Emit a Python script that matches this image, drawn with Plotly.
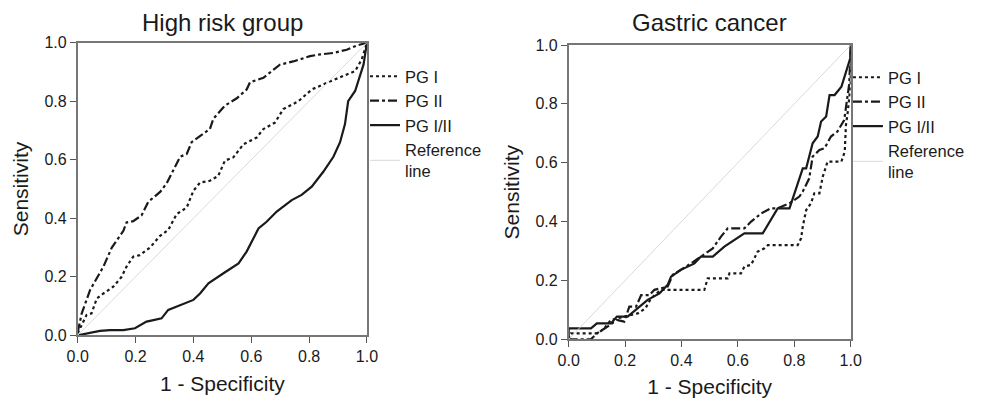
import plotly.graph_objects as go

# ---------------- Data: High risk group ----------------
hr_pg1_x = [0, 0.008, 0.031, 0.048, 0.066, 0.089, 0.123, 0.152, 0.169, 0.192, 0.215, 0.25, 0.285, 0.313,
            0.342, 0.377, 0.40, 0.423, 0.457, 0.486, 0.509, 0.538, 0.573, 0.619, 0.642, 0.682, 0.711,
            0.763, 0.809, 0.861, 0.919, 0.959, 0.982, 1.0]
hr_pg1_y = [0.007, 0.024, 0.07, 0.075, 0.126, 0.143, 0.166, 0.2, 0.235, 0.269, 0.274, 0.30, 0.34, 0.36,
            0.414, 0.437, 0.494, 0.522, 0.528, 0.545, 0.597, 0.608, 0.653, 0.676, 0.705, 0.727, 0.773,
            0.80, 0.84, 0.863, 0.886, 0.903, 0.943, 1.0]

hr_pg2_x = [0, 0.014, 0.043, 0.089, 0.118, 0.158, 0.169, 0.192, 0.221, 0.244, 0.285, 0.308, 0.354, 0.377,
            0.394, 0.457, 0.469, 0.509, 0.55, 0.584, 0.596, 0.642, 0.699, 0.745, 0.803, 0.838, 0.884,
            0.93, 0.964, 1.0]
hr_pg2_y = [0.01, 0.075, 0.155, 0.235, 0.30, 0.357, 0.386, 0.39, 0.41, 0.456, 0.49, 0.52, 0.61, 0.62,
            0.66, 0.705, 0.74, 0.785, 0.81, 0.84, 0.865, 0.88, 0.925, 0.936, 0.954, 0.96, 0.965,
            0.976, 0.99, 1.0]

hr_ratio_x = [0, 0.043, 0.077, 0.112, 0.158, 0.198, 0.238, 0.262, 0.29, 0.313, 0.354, 0.40, 0.423, 0.452,
              0.504, 0.556, 0.584, 0.625, 0.653, 0.688, 0.74, 0.774, 0.809, 0.849, 0.884, 0.907, 0.924,
              0.935, 0.959, 0.976, 0.988, 1.0]
hr_ratio_y = [0, 0.007, 0.015, 0.018, 0.018, 0.024, 0.047, 0.052, 0.058, 0.087, 0.104, 0.121, 0.143, 0.178,
              0.212, 0.246, 0.286, 0.365, 0.388, 0.423, 0.462, 0.48, 0.508, 0.559, 0.61, 0.66, 0.722,
              0.80, 0.835, 0.886, 0.925, 1.0]

# ---------------- Data: Gastric cancer ----------------
gc_pg1_x = [0, 0.008, 0.103, 0.126, 0.15, 0.197, 0.245, 0.272, 0.292, 0.327, 0.481, 0.493, 0.564, 0.57,
            0.611, 0.623, 0.647, 0.67, 0.694, 0.706, 0.812, 0.824, 0.83, 0.842, 0.859, 0.871, 0.889,
            0.901, 0.918, 0.967, 0.979, 0.983, 0.989, 1.0, 1.0]
gc_pg1_y = [0, 0.02, 0.02, 0.037, 0.066, 0.077, 0.088, 0.105, 0.139, 0.168, 0.168, 0.207, 0.207, 0.224,
            0.224, 0.247, 0.253, 0.298, 0.309, 0.32, 0.32, 0.343, 0.383, 0.439, 0.462, 0.496, 0.496,
            0.553, 0.604, 0.604, 0.638, 0.728, 0.768, 0.87, 1.0]

gc_pg2_x = [0, 0.032, 0.079, 0.1, 0.138, 0.171, 0.197, 0.215, 0.239, 0.257, 0.286, 0.304, 0.351, 0.369,
            0.398, 0.434, 0.469, 0.511, 0.54, 0.564, 0.623, 0.647, 0.683, 0.717, 0.741, 0.783, 0.818,
            0.83, 0.853, 0.865, 0.889, 0.907, 0.93, 0.953, 0.977, 0.995, 1.0]
gc_pg2_y = [0, 0, 0, 0.02, 0.043, 0.066, 0.06, 0.111, 0.111, 0.15, 0.15, 0.168, 0.179, 0.219,
            0.236, 0.258, 0.281, 0.309, 0.349, 0.377, 0.377, 0.40, 0.428, 0.445, 0.445, 0.462, 0.485,
            0.502, 0.547, 0.621, 0.643, 0.649, 0.689, 0.706, 0.745, 0.87, 1.0]

gc_ratio_x = [0, 0, 0.079, 0.1, 0.15, 0.171, 0.209, 0.245, 0.28, 0.322, 0.351, 0.363, 0.398, 0.446,
              0.469, 0.511, 0.552, 0.623, 0.688, 0.741, 0.783, 0.83, 0.842, 0.865, 0.883, 0.895,
              0.913, 0.925, 0.943, 0.967, 0.983, 1.0, 1.0]
gc_ratio_y = [0, 0.037, 0.037, 0.054, 0.054, 0.077, 0.077, 0.105, 0.134, 0.156, 0.185, 0.213, 0.236, 0.258,
              0.281, 0.281, 0.315, 0.36, 0.36, 0.445, 0.445, 0.581, 0.581, 0.666, 0.689, 0.74,
              0.757, 0.83, 0.83, 0.858, 0.909, 0.96, 1.0]

ref_x = [0, 1]
ref_y = [0, 1]

titles = ["High risk group", "Gastric cancer"]
names = ["PG I", "PG II", "PG I/II", "Reference<br>line"]
tick_vals = [0, 0.2, 0.4, 0.6, 0.8, 1.0]
tick_text = ["0.0", "0.2", "0.4", "0.6", "0.8", "1.0"]

FONT = "Liberation Sans, Arial, sans-serif"
INK = "#1a1a1a"

fig = go.Figure()

def add_panel(xa, ya, legend, s1, s2, s3):
    styles = [("dot", 2.2), ("dashdot", 2.2), ("solid", 2.2)]
    for (xs, ys), name, (dash, w) in zip([s1, s2, s3], names[:3], styles):
        fig.add_trace(go.Scatter(x=xs, y=ys, mode="lines", name=name, xaxis=xa, yaxis=ya,
                                 legend=legend,
                                 line=dict(color=INK, width=w, dash=dash)))
    fig.add_trace(go.Scatter(x=ref_x, y=ref_y, mode="lines", name=names[3], xaxis=xa, yaxis=ya,
                             legend=legend, line=dict(color="#d9d9d9", width=1)))

add_panel("x", "y", "legend", (hr_pg1_x, hr_pg1_y), (hr_pg2_x, hr_pg2_y), (hr_ratio_x, hr_ratio_y))
add_panel("x2", "y2", "legend2", (gc_pg1_x, gc_pg1_y), (gc_pg2_x, gc_pg2_y), (gc_ratio_x, gc_ratio_y))

axis_common = dict(range=[0, 1], tickvals=tick_vals, ticktext=tick_text, ticks="outside", ticklen=6,
                   tickcolor="#555", showline=True, linecolor="#777", linewidth=1.5, mirror=True,
                   showgrid=False, zeroline=False, automargin=False,
                   tickfont=dict(size=16, color=INK, family=FONT),
                   title_font=dict(size=21, color=INK, family=FONT))

fig.update_layout(
    width=982, height=398,
    margin=dict(l=0, r=0, t=0, b=0),
    paper_bgcolor="white", plot_bgcolor="white",
    font=dict(family=FONT, color=INK),
    xaxis=dict(domain=[0.0791, 0.3737], anchor="y", title=dict(text="1 - Specificity", standoff=12), **axis_common),
    yaxis=dict(domain=[0.1575, 0.8927], anchor="x", title=dict(text="Sensitivity", standoff=10), **axis_common),
    xaxis2=dict(domain=[0.5791, 0.8663], anchor="y2", title=dict(text="1 - Specificity", standoff=12), **axis_common),
    yaxis2=dict(domain=[0.1475, 0.8869], anchor="x2", title=dict(text="Sensitivity", standoff=10), **axis_common),
    legend=dict(x=0.3717, y=1 - 59 / 398, xanchor="left", yanchor="top", font=dict(size=16.5, family=FONT, color=INK),
                bgcolor="rgba(0,0,0,0)", itemwidth=30, tracegroupgap=0),
    legend2=dict(x=0.8635, y=1 - 60 / 398, xanchor="left", yanchor="top", font=dict(size=16.5, family=FONT, color=INK),
                 bgcolor="rgba(0,0,0,0)", itemwidth=30, tracegroupgap=0),
    showlegend=True,
)

fig.add_annotation(text=titles[0], x=(0.0791 + 0.3737) / 2, y=1 - 23 / 398, xref="paper", yref="paper",
                   showarrow=False, font=dict(size=24, family=FONT, color=INK), xanchor="center", yanchor="middle")
fig.add_annotation(text=titles[1], x=(0.5791 + 0.8663) / 2, y=1 - 23 / 398, xref="paper", yref="paper",
                   showarrow=False, font=dict(size=24, family=FONT, color=INK), xanchor="center", yanchor="middle")

fig.write_html("out.html", config={"displayModeBar": False},
               post_script="document.body.style.margin='0';document.body.style.overflow='hidden';")
